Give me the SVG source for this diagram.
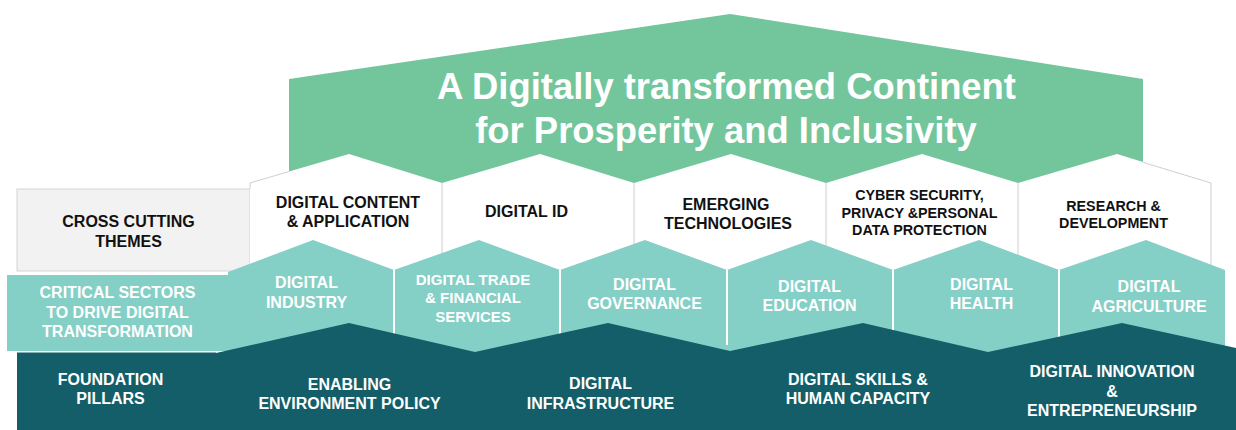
<svg xmlns="http://www.w3.org/2000/svg" width="1236" height="430" viewBox="0 0 1236 430">
  <style>
    text { font-family: "Liberation Sans", Arial, sans-serif; font-weight: bold; text-anchor: middle; }
    .title { font-size: 36.4px; fill: #ffffff; }
    .k16 { font-size: 16px; fill: #111111; }
    .k14 { font-size: 14.3px; fill: #111111; }
    .w16 { font-size: 16px; fill: #ffffff; }
    .w15 { font-size: 15px; fill: #ffffff; }
    .green { fill: #73c69c; }
    .white { fill: #ffffff; }
    .teal { fill: #84cfc6; }
    .dark { fill: #135e68; }
    .outline { fill: none; stroke: #c8c8c8; stroke-width: 0.9; }
    .wdiv { stroke: #ffffff; stroke-width: 2; }
  </style>

  <!-- Vision banner -->
  <g id="vision">
    <polygon class="green" points="289,79 730,14 1143,79 1143,190 289,190"/>
    <text class="title" x="726.5" y="99">A Digitally transformed Continent</text>
    <text class="title" x="726" y="143">for Prosperity and Inclusivity</text>
  </g>

  <!-- Cross cutting themes -->
  <g id="cross-cutting-label">
    <rect x="17" y="189" width="233" height="82" fill="#f2f2f2" stroke="#d4d4d4" stroke-width="1"/>
    <text class="k16" x="128.5" y="227">CROSS CUTTING</text>
    <text class="k16" x="128.5" y="247">THEMES</text>
  </g>
  <g id="theme-content">
    <polygon class="white" points="250,183 349,154 442,183 442,272 250,272"/>
    <text class="k16" x="348" y="208">DIGITAL CONTENT</text>
    <text class="k16" x="348" y="227">&amp; APPLICATION</text>
  </g>
  <g id="theme-id">
    <polygon class="white" points="442,183 540,154 634,183 634,272 442,272"/>
    <text class="k16" x="526.5" y="217">DIGITAL ID</text>
  </g>
  <g id="theme-emerging">
    <polygon class="white" points="634,183 731,154 826,183 826,272 634,272"/>
    <text class="k16" x="726" y="210">EMERGING</text>
    <text class="k16" x="728" y="229">TECHNOLOGIES</text>
  </g>
  <g id="theme-cyber">
    <polygon class="white" points="826,183 922,154 1018,183 1018,272 826,272"/>
    <text class="k14" x="919.5" y="200">CYBER SECURITY,</text>
    <text class="k14" x="919.5" y="218">PRIVACY &amp;PERSONAL</text>
    <text class="k14" x="919.5" y="235">DATA PROTECTION</text>
  </g>
  <g id="theme-research">
    <polygon class="white" points="1018,183 1117,154 1211,183 1211,272 1018,272"/>
    <text class="k14" x="1113.5" y="211">RESEARCH &amp;</text>
    <text class="k14" x="1113.5" y="228">DEVELOPMENT</text>
  </g>
  <path class="outline" d="M250,189 V183 L289,171.5 M1143,162.3 L1211,183 V270 M442,183 V270 M634,183 V270 M826,183 V270 M1018,183 V270"/>

  <!-- Critical sectors -->
  <g id="sectors-label">
    <rect class="teal" x="7" y="275" width="221" height="76"/>
    <text class="w16" x="117.5" y="298">CRITICAL SECTORS</text>
    <text class="w16" x="117.5" y="318">TO DRIVE DIGITAL</text>
    <text class="w16" x="117.5" y="337">TRANSFORMATION</text>
  </g>
  <g id="sector-industry">
    <polygon class="teal" points="228,272 313,240 394,270 394,352 228,352"/>
    <text class="w16" x="306.5" y="288">DIGITAL</text>
    <text class="w16" x="306.5" y="308">INDUSTRY</text>
  </g>
  <g id="sector-trade">
    <polygon class="teal" points="394,270 479,240 560,270 560,352 394,352"/>
    <text class="w15" x="473" y="285">DIGITAL TRADE</text>
    <text class="w15" x="473" y="303">&amp; FINANCIAL</text>
    <text class="w15" x="473" y="322">SERVICES</text>
  </g>
  <g id="sector-governance">
    <polygon class="teal" points="560,270 645,240 727,270 727,352 560,352"/>
    <text class="w16" x="644.5" y="290">DIGITAL</text>
    <text class="w16" x="644.5" y="309">GOVERNANCE</text>
  </g>
  <g id="sector-education">
    <polygon class="teal" points="727,270 811,240 893,270 893,352 727,352"/>
    <text class="w16" x="809.5" y="292">DIGITAL</text>
    <text class="w16" x="809.5" y="311">EDUCATION</text>
  </g>
  <g id="sector-health">
    <polygon class="teal" points="893,270 979,240 1059,270 1059,352 893,352"/>
    <text class="w16" x="981.5" y="290">DIGITAL</text>
    <text class="w16" x="981.5" y="309">HEALTH</text>
  </g>
  <g id="sector-agriculture">
    <polygon class="teal" points="1059,270 1146,240 1225,270 1225,352 1059,352"/>
    <text class="w16" x="1149" y="292">DIGITAL</text>
    <text class="w16" x="1149" y="312">AGRICULTURE</text>
  </g>
  <path class="wdiv" d="M394,270 V345 M560,270 V345 M727,270 V345 M893,270 V345 M1059,270 V345"/>

  <!-- Foundation pillars -->
  <g id="foundation-label">
    <rect class="dark" x="17" y="352.5" width="199" height="78"/>
    <text class="w16" x="110.5" y="385">FOUNDATION</text>
    <text class="w16" x="110.5" y="404">PILLARS</text>
  </g>
  <g id="pillars">
    <polygon class="dark" points="216,353 349,323 475,352 608,323 730,351 863,323 988,352 1122,323 1236,348 1236,430 216,430"/>
  </g>
  <g id="pillar-policy">
    <text class="w16" x="349.5" y="390">ENABLING</text>
    <text class="w16" x="349.5" y="409">ENVIRONMENT POLICY</text>
  </g>
  <g id="pillar-infrastructure">
    <text class="w16" x="600.5" y="389">DIGITAL</text>
    <text class="w16" x="600.5" y="409">INFRASTRUCTURE</text>
  </g>
  <g id="pillar-skills">
    <text class="w16" x="858" y="385">DIGITAL SKILLS &amp;</text>
    <text class="w16" x="858" y="404">HUMAN CAPACITY</text>
  </g>
  <g id="pillar-innovation">
    <text class="w16" x="1112" y="377">DIGITAL INNOVATION</text>
    <text class="w16" x="1112" y="397">&amp;</text>
    <text class="w16" x="1112" y="416">ENTREPRENEURSHIP</text>
  </g>

  <g id="connectors"/>
</svg>
